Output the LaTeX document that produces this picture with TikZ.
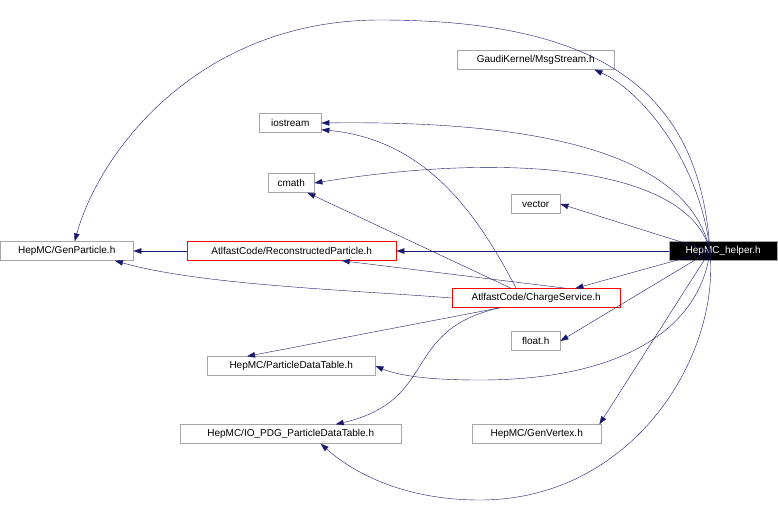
\documentclass[tikz,border=0pt]{standalone}
\usepackage{fontspec}
\setmainfont{Liberation Sans}
\usepackage{tikz}
\usetikzlibrary{positioning,arrows.meta}
\definecolor{MidnightBlueLine}{HTML}{191970}

\begin{document}
\begin{tikzpicture}[x=1pt, y=-1pt,
file/.style={draw=gray!70, rectangle, minimum height=19pt, inner sep=0pt, font=\fontsize{10}{12}\selectfont, anchor=west},
redfile/.style={file, draw=red},
edge/.style={draw=MidnightBlueLine, -{Triangle[length=8pt,width=5.5pt]}},
]
\useasboundingbox (0,0) rectangle (778,512);

%Files
\node[file, fill=black, text=white, minimum width=108pt] (helper) at (669,251) {HepMC\_helper.h};
\node[file, minimum width=133pt] (genpart) at (0,251) {HepMC/GenParticle.h};
\node[redfile, minimum width=209pt] (recpart) at (187,251) {AtlfastCode/ReconstructedParticle.h};
\node[file, minimum width=157pt] (msg) at (457,60) {GaudiKernel/MsgStream.h};
\node[file, minimum width=62pt] (iostream) at (259,123) {iostream};
\node[file, minimum width=46pt] (cmath) at (268,183) {cmath};
\node[file, minimum width=49pt] (vector) at (511,204) {vector};
\node[redfile, minimum width=168pt] (charge) at (452,298) {AtlfastCode/ChargeService.h};
\node[file, minimum width=49pt] (float) at (511,341) {float.h};
\node[file, minimum width=168pt] (pdt) at (207,366) {HepMC/ParticleDataTable.h};
\node[file, minimum width=221pt] (iopdg) at (180,434) {HepMC/IO\_PDG\_ParticleDataTable.h};
\node[file, minimum width=129pt] (vertex) at (472,434) {HepMC/GenVertex.h};
\coordinate (hub) at (710,251);

%Connections from HepMC_helper.h
\draw[edge] (hub) .. controls (700,90) and (600,20) .. (380,20) .. controls (200,20) and (100,150) .. ([xshift=8pt]genpart.north);
\draw[edge] (hub) .. controls (700,160) and (640,90) .. ([xshift=-20pt]msg.south east);
\draw[edge] (hub) .. controls (690,160) and (560,120) .. (iostream.east);
\draw[edge] (hub) .. controls (690,170) and (520,150) .. (cmath.east);
\draw[edge] (hub) -- (vector.east);
\draw[edge] (helper.west) -- (recpart.east);
\draw[edge] (hub) -- ([xshift=-45pt]charge.north east);
\draw[edge] (hub) -- (float.east);
\draw[edge] (hub) .. controls (700,330) and (620,380) .. (480,380) .. controls (430,380) and (400,376) .. (pdt.east);
\draw[edge] (hub) -- ([xshift=-2pt]vertex.north east);
\draw[edge] (hub) .. controls (720,360) and (630,500) .. (480,500) .. controls (400,500) and (350,470) .. ([xshift=30pt]iopdg.south);

%Connections between the other files
\draw[edge] (recpart.west) -- (genpart.east);
\draw[edge] (charge.west) .. controls (350,290) and (200,285) .. ([xshift=115pt]genpart.south west);
\draw[edge] ([xshift=30pt]charge.north) -- ([xshift=50pt]recpart.south);
\draw[edge] ([xshift=-20pt]charge.north) .. controls (480,220) and (430,140) .. ([yshift=3pt]iostream.south east);
\draw[edge] ([xshift=-25pt]charge.north) -- ([xshift=-7pt]cmath.south east);
\draw[edge] ([xshift=-36pt]charge.south) -- ([xshift=40pt]pdt.north west);
\draw[edge] ([xshift=-36pt]charge.south) .. controls (400,330) and (440,400) .. ([xshift=45pt]iopdg.north);
\end{tikzpicture}
\end{document}
